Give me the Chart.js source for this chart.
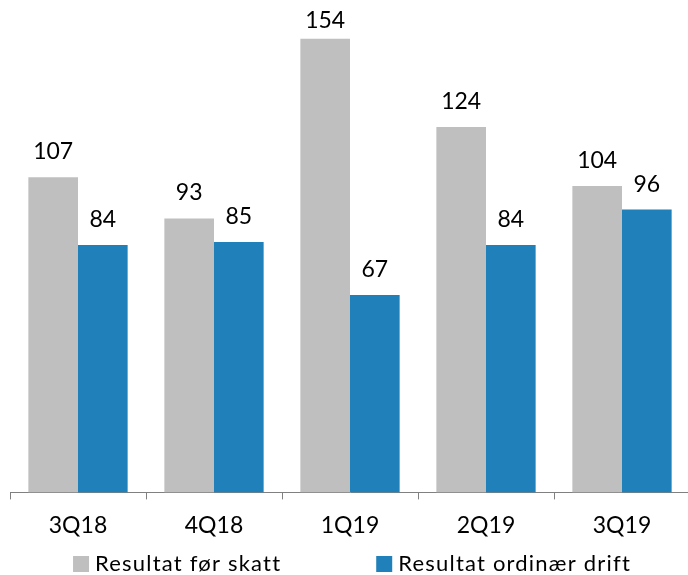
<!DOCTYPE html>
<html>
<head>
<meta charset="utf-8">
<script src="https://cdn.jsdelivr.net/npm/chart.js@4/dist/chart.umd.min.js"></script>
<style>
  html, body { margin: 0; padding: 0; background: #fff; overflow: hidden; }
  #wrap { width: 688px; height: 575px; overflow: hidden; }
</style>
</head>
<body>
<div id="wrap"><canvas id="barChart" width="692" height="575"></canvas></div>
<script>
var kvartaler = ['3Q18', '4Q18', '1Q19', '2Q19', '3Q19'];
var resultatForSkatt = [107, 93, 154, 124, 104];
var resultatOrdinaerDrift = [84, 85, 67, 84, 96];
var serieNavn = ['Resultat før skatt', 'Resultat ordinær drift'];

var colors = ['#BFBFBF', '#1F80BA'];

// verdier over stolpene (holdes innenfor toppen av lerretet)
var verdiEtiketter = {
  id: 'verdiEtiketter',
  afterDatasetsDraw: function (chart) {
    var ctx = chart.ctx;
    ctx.save();
    ctx.font = '23px Lato';
    ctx.fillStyle = '#000';
    ctx.textAlign = 'center';
    ctx.textBaseline = 'alphabetic';
    chart.data.datasets.forEach(function (ds, i) {
      chart.getDatasetMeta(i).data.forEach(function (bar, j) {
        ctx.fillText(ds.data[j], bar.x, Math.max(bar.y - 18, 28));
      });
    });
    ctx.restore();
  }
};

// forklaring nederst, med litt ekstra bokstavavstand
var forklaring = {
  id: 'forklaring',
  afterDraw: function (chart) {
    var ctx = chart.ctx;
    var boks = 16, luft = 6, mellom = 95;
    ctx.save();
    ctx.font = '22px Lato';
    ctx.letterSpacing = '1.2px';
    ctx.textBaseline = 'alphabetic';
    ctx.textAlign = 'left';
    var bredder = chart.data.datasets.map(function (ds) {
      return boks + luft + ctx.measureText(ds.label).width;
    });
    var total = bredder.reduce(function (a, b) { return a + b; }, 0) + mellom * (bredder.length - 1);
    var x = (chart.chartArea.left + chart.chartArea.right) / 2 - total / 2 + 2;
    var y = chart.height - 4;
    chart.data.datasets.forEach(function (ds, i) {
      ctx.fillStyle = ds.backgroundColor;
      ctx.fillRect(x, y - 15, boks, boks);
      ctx.fillStyle = '#000';
      ctx.fillText(ds.label, x + boks + luft, y);
      x += bredder[i] + mellom;
    });
    ctx.restore();
  }
};

var barChartCanvas = document.getElementById('barChart').getContext('2d');
var chart = new Chart(barChartCanvas, {
  type: 'bar',
  data: {
    labels: kvartaler,
    datasets: [{
      label: serieNavn[0],
      data: resultatForSkatt,
      backgroundColor: colors[0],
      barPercentage: 1,
      categoryPercentage: 0.73
    }, {
      label: serieNavn[1],
      data: resultatOrdinaerDrift,
      backgroundColor: colors[1],
      barPercentage: 1,
      categoryPercentage: 0.73
    }]
  },
  options: {
    responsive: false,
    animation: false,
    layout: { padding: { left: 10, right: 2, top: 21, bottom: 24 } },
    plugins: {
      tooltip: { enabled: false },
      legend: { display: false }
    },
    scales: {
      x: {
        grid: {
          display: true,
          offset: true,
          drawOnChartArea: false,
          drawTicks: true,
          tickLength: 7,
          tickColor: '#808080'
        },
        border: { display: true, color: '#808080', width: 1 },
        ticks: {
          color: '#000',
          font: { family: 'Lato', size: 23 },
          padding: 12
        }
      },
      y: {
        display: false,
        min: 0,
        max: 160
      }
    }
  },
  plugins: [verdiEtiketter, forklaring]
});
</script>
</body>
</html>
